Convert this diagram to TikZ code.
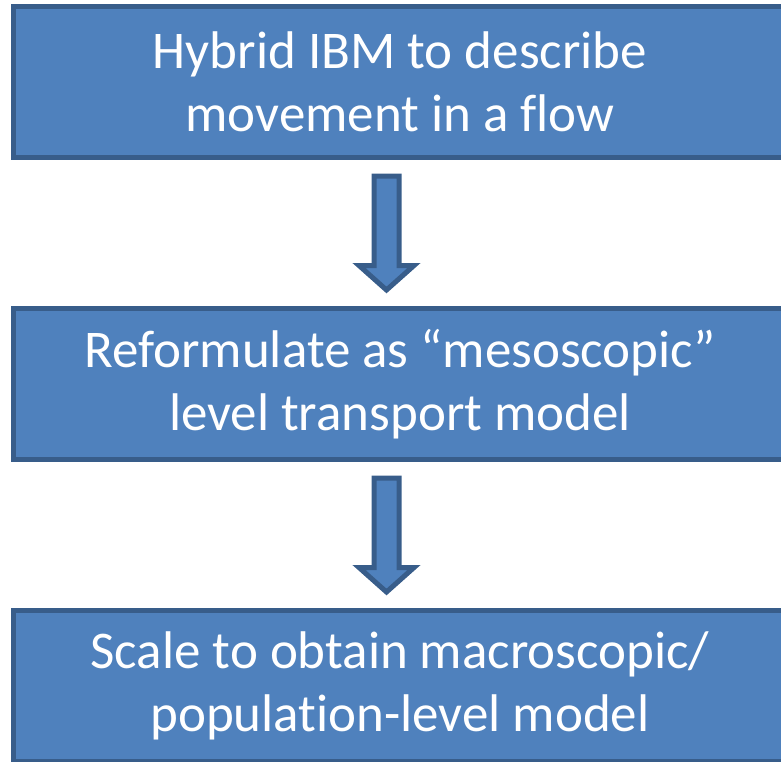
\documentclass[tikz,border=0pt]{standalone}
\usepackage{fontspec}
\setmainfont{Carlito}[Ligatures=NoCommon]
\definecolor{fillc}{HTML}{4F81BD}
\definecolor{bordc}{HTML}{385D8A}
\begin{document}
\begin{tikzpicture}[x=1pt,y=-1pt]
\tikzset{
  box/.style={draw=bordc, fill=fillc, line width=5pt, minimum width=773pt,
    minimum height=151pt, inner sep=0pt, text=white, align=center,
    font=\fontsize{53}{63}\selectfont},
  blockarrow/.style={draw=bordc, fill=fillc, line width=5pt, line join=miter}
}
\useasboundingbox (0,0) rectangle (781,761);
\clip (0,0) rectangle (781,761);
\node[box] (b1) at (400,82) {Hybrid IBM to describe\\movement in a flow};
\node[box] (b2) at (400,384) {Reformulate as “mesoscopic”\\level transport model};
\node[box] (b3) at (400,686) {Scale to obtain macroscopic/\\population-level model};
\draw[blockarrow] (374,176) -- (399,176) -- (399,265.5) -- (414,265.5) -- (386.5,290) -- (359,265.5) -- (374,265.5) -- cycle;
\draw[blockarrow] (374,478) -- (399,478) -- (399,567.5) -- (414,567.5) -- (386.5,592) -- (359,567.5) -- (374,567.5) -- cycle;
\end{tikzpicture}
\end{document}
